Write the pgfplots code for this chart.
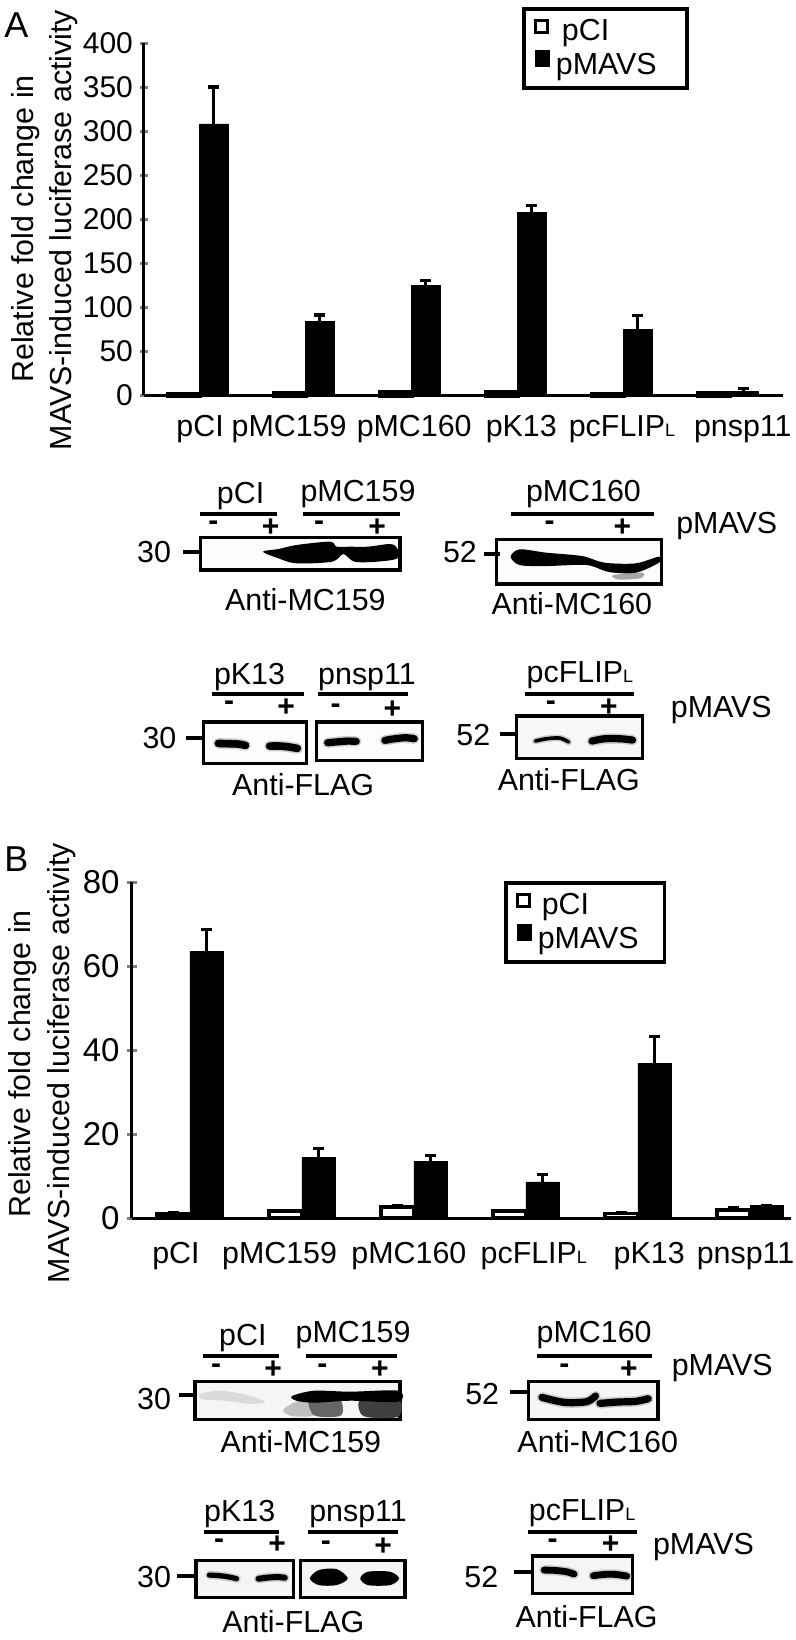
\documentclass[border=0pt]{standalone}
\usepackage{fontspec}
\setmainfont{Liberation Sans}
\usepackage{pgfplots}
\pgfplotsset{compat=1.18}

\pgfplotstableread{
x  ctl   ctlerr  mavs  mavserr
0  0.5   0.3     308   42
1  1.5   0.3     84    7
2  2.5   0.3     125   5
3  3.0   0.3     207   8
4  0.5   0.3     75    15
5  2.0   0.5     4     3
}\panelA
\pgfplotstableread{
x  ctl   ctlerr  mavs  mavserr
0  1.0   0.2     63.4  5.3
1  1.6   0.2     14.5  2.0
2  2.6   0.4     13.4  1.5
3  1.6   0.2     8.6   1.8
4  1.1   0.2     36.8  6.5
5  1.9   0.5     2.9   0.0
}\panelB

\newcommand{\ls}{\fontsize{15.2}{17}\selectfont}
\newcommand{\sub}[1]{{\fontsize{9}{9}\selectfont #1}}

\tikzset{
  lab/.style={font=\ls,inner sep=0pt,anchor=base},
  labl/.style={font=\ls,inner sep=0pt,anchor=base west},
  num/.style={font=\ls,inner sep=0pt,anchor=east},
  sign/.style={font=\bfseries\fontsize{15}{15}\selectfont,inner sep=0pt},
  rule/.style={line width=2pt},
  blot/.style={line width=1.6pt,fill=black!#1},
  band/.style={line width=#1,line cap=round,line join=round,black},
  halo/.style={line width=#1,line cap=round,line join=round,black!30,opacity=.6},
}
% dark band with a soft edge: width, then four points along it
\newcommand{\band}[5]{%
  \draw[halo=#1+1.6pt] plot[smooth] coordinates {#2 #3 #4 #5};
  \draw[band=#1] plot[smooth] coordinates {#2 #3 #4 #5};}

\pgfplotsset{
  fig/.style={
    scale only axis, clip=false,
    axis lines=left, axis line style={-,line width=1.5pt},
    ymin=0, xtick style={draw=none},
    ytick style={line width=1.5pt}, major tick length=4pt,
    xticklabel style={font=\ls,anchor=base},
    /pgf/number format/assume math mode=true,
    ybar, legend cell align=left,
    error bars/y dir=plus, error bars/y explicit,
    error bars/error bar style={line width=1.5pt,black},
    error bars/error mark options={rotate=90,mark size=2.6pt,line width=1.6pt,black},
  },
  ctl/.style={draw=black,fill=white,line width=1.8pt,
    legend image code/.code={\draw[line width=1.6pt,fill=white] (0pt,-0.5pt) rectangle (6pt,5.5pt);}},
  mavs/.style={draw=black,fill=black,line width=.4pt,
    legend image code/.code={\fill[black] (0pt,-0.5pt) rectangle (7pt,7.5pt);}},
}

\begin{document}
\begin{tikzpicture}[x=0.5pt,y=-0.5pt]
\fill[white] (0,0) rectangle (796,1640);
\path[use as bounding box] (0,0) rectangle (796,1640);

% ---- panel A chart
\begin{axis}[fig, at={(72pt,-197.5pt)}, anchor=south west,
  width=319.5pt, height=176pt,
  xmin=-0.519, xmax=5.509, ymax=400, ytick distance=50,
  yticklabel style={font=\fontsize{15}{17}\selectfont},
  xtick={0.01,0.85,2.03,3.04,3.99,5.13},
  xticklabels={pCI,pMC159,pMC160,pK13,pcFLIP\sub{L},pnsp11},
  xticklabel style={yshift=-16.5pt},
  legend style={at={(0.5917,1.1026)},anchor=north west,line width=1.8pt,
    font=\ls,inner xsep=5pt,inner ysep=3.2pt,row sep=1pt},
]
\addplot[ctl,line width=2.6pt,bar width=15pt,bar shift=-7.5pt] table[x=x,y=ctl] {\panelA};
\addlegendentry{\hspace*{4pt}pCI}
\addplot[mavs,bar width=14.5pt,bar shift=7.25pt] table[x=x,y=mavs,y error=mavserr] {\panelA};
\addlegendentry{\hspace*{1pt}pMAVS\hspace*{8pt}}
\end{axis}

% ---- panel B chart
\begin{axis}[fig, at={(65.8pt,-609pt)}, anchor=south west,
  width=329.7pt, height=168pt,
  xmin=-0.521, xmax=5.366, ymax=80, ytick distance=20,
  bar width=16.5pt, major tick length=5pt,
  yticklabel style={font=\fontsize{16.5}{18}\selectfont},
  xtick={-0.125,0.80,1.955,3.07,4.10,4.96},
  xticklabels={pCI,pMC159,pMC160,pcFLIP\sub{L},pK13,pnsp11},
  xticklabel style={yshift=-17.5pt},
  legend style={at={(0.5648,1.003)},anchor=north west,line width=1.8pt,
    font=\ls,inner xsep=5pt,inner ysep=3.2pt,row sep=1pt},
]
\addplot[ctl,bar shift=-8.25pt] table[x=x,y=ctl,y error=ctlerr] {\panelB};
\addlegendentry{\hspace*{3pt}pCI}
\addplot[mavs,bar shift=8.25pt] table[x=x,y=mavs,y error=mavserr] {\panelB};
\addlegendentry{\hspace*{1pt}pMAVS\hspace*{6pt}}
\end{axis}

% ---- panel letters and y titles
\node[anchor=base west,inner sep=0pt,font=\fontsize{18}{20}\selectfont] at (4,37) {A};
\node[anchor=base west,inner sep=0pt,font=\fontsize{18}{20}\selectfont] at (4,871) {B};
\node[lab,rotate=90] at (33,229) {Relative fold change in};
\node[lab,rotate=90] at (71,230) {MAVS-induced luciferase activity};
\node[lab,rotate=90] at (31,1064) {Relative fold change in};
\node[lab,rotate=90] at (69,1063) {MAVS-induced luciferase activity};

% ---- panel A blots
\begin{scope}[shift={(100,450)},x=0.2232pt,y=-0.1667pt]
\node[lab] at (315,160) {pCI};
\node[lab] at (578,155) {pMC159};
\node[lab] at (1083,155) {pMC160};
\draw[rule] (225,192)--(397,192) (455,192)--(673,192) (920,192)--(1241,192);
\foreach \x/\s/\y in {254/-/228,382/+/233,491/-/228,621/+/233,1007/-/228,1170/+/233}
  \node[sign] at (\x,\y) {\s};
\node[labl] at (1290,250) {pMAVS};
\filldraw[blot=1] (225,262) rectangle (672,360);
\filldraw[blot=1] (888,268) rectangle (1258,402);
\fill[black] plot[smooth cycle] coordinates {(365,305) (400,297) (440,285) (515,275) (530,290) (560,290) (600,290) (650,282) (666,295) (666,325) (620,335) (570,335) (545,312) (520,335) (440,340) (400,325)};
\fill[black!35] plot[smooth cycle] coordinates {(1150,375) (1215,368) (1210,385) (1160,388)};
\fill[black] plot[smooth cycle] coordinates {(920,320) (940,298) (1000,308) (1080,318) (1130,338) (1200,340) (1252,320) (1252,338) (1200,368) (1140,366) (1090,345) (1000,348) (940,345)};
\draw[rule] (187,307)--(225,307) (860,313)--(895,313);
\node[num] at (160,305) {30};
\node[num] at (845,305) {52};
\node[lab] at (460,482) {Anti-MC159};
\node[lab] at (1057,492) {Anti-MC160};

\node[lab] at (335,703) {pK13};
\node[lab] at (598,703) {pnsp11};
\node[lab] at (1075,698) {pcFLIP\sub{L}};
\draw[rule] (252,733)--(456,733) (489,733)--(690,733) (953,733)--(1197,733);
\foreach \x/\s/\y in {289/-/768,417/+/773,528/-/775,655/+/778,1010/-/767,1140/+/772}
  \node[sign] at (\x,\y) {\s};
\node[labl] at (1278,803) {pMAVS};
\filldraw[blot=1] (232,816) rectangle (463,941);
\filldraw[blot=1] (485,816) rectangle (722,931);
\filldraw[blot=3] (933,798) rectangle (1215,925);
\band{3.8pt}{(265,880)}{(290,881)}{(310,882)}{(326,886)}
\band{3.8pt}{(380,888)}{(405,888)}{(425,891)}{(442,895)}
\band{3.6pt}{(510,878)}{(535,875)}{(555,873)}{(574,874)}
\band{3.6pt}{(638,871)}{(660,866)}{(685,863)}{(704,866)}
\band{1.8pt}{(975,873)}{(1000,866)}{(1030,864)}{(1050,876)}
\band{3.6pt}{(1102,873)}{(1130,866)}{(1165,866)}{(1193,870)}
\draw[rule] (193,865)--(232,865) (897,853)--(933,853);
\node[num] at (172,865) {30};
\node[num] at (875,855) {52};
\node[lab] at (455,1035) {Anti-FLAG};
\node[lab] at (1050,1022) {Anti-FLAG};
\end{scope}

% ---- panel B blots
\begin{scope}[shift={(100,1270)},x=0.2232pt,y=-0.1667pt]
\node[lab] at (320,225) {pCI};
\node[lab] at (567,218) {pMC159};
\node[lab] at (1107,218) {pMC160};
\draw[rule] (230,259)--(402,259) (461,259)--(666,259) (978,259)--(1236,259);
\foreach \x/\s/\y in {260/-/295,388/+/298,498/-/295,627/+/298,1040/-/295,1185/+/298}
  \node[sign] at (\x,\y) {\s};
\node[labl] at (1280,315) {pMAVS};
\filldraw[blot=4] (213,335) rectangle (672,448);
\filldraw[blot=4] (960,335) rectangle (1250,448);
\fill[black!14] plot[smooth cycle] coordinates {(225,372) (270,362) (330,375) (370,395) (340,402) (280,392) (230,388)};
\fill[black!25] plot[smooth cycle] coordinates {(410,420) (440,395) (480,385) (480,435) (430,438)};
\fill[black!60] plot[smooth cycle] coordinates {(470,385) (535,385) (540,436) (480,436)};
\fill[black!75] plot[smooth cycle] coordinates {(585,385) (668,385) (668,440) (590,438)};
\fill[black] plot[smooth cycle] coordinates {(430,378) (480,362) (560,365) (668,362) (668,395) (560,392) (480,398) (440,392)};
\band{3.6pt}{(990,382)}{(1040,397)}{(1090,395)}{(1110,378)}
\band{3.6pt}{(1120,400)}{(1160,396)}{(1200,394)}{(1228,386)}
\draw[rule] (176,374)--(213,374) (918,365)--(960,365);
\node[num] at (160,388) {30};
\node[num] at (895,372) {52};
\node[lab] at (450,548) {Anti-MC159};
\node[lab] at (1115,548) {Anti-MC160};

\node[lab] at (313,755) {pK13};
\node[lab] at (578,755) {pnsp11};
\node[lab] at (1080,752) {pcFLIP\sub{L}};
\draw[rule] (232,787)--(402,787) (467,787)--(668,787) (958,787)--(1202,787);
\foreach \x/\s/\y in {267/-/822,397/+/825,506/-/827,634/+/830,1014/-/820,1144/+/825}
  \node[sign] at (\x,\y) {\s};
\node[labl] at (1238,853) {pMAVS};
\filldraw[blot=4] (215,871) rectangle (433,983);
\filldraw[blot=4] (449,871) rectangle (683,983);
\filldraw[blot=4] (968,858) rectangle (1193,970);
\band{2.6pt}{(245,915)}{(270,917)}{(290,921)}{(306,926)}
\band{3pt}{(355,926)}{(380,922)}{(400,921)}{(414,923)}
\fill[black] plot[smooth cycle] coordinates {(470,925) (490,900) (530,897) (555,925) (530,945) (490,945)};
\fill[black] plot[smooth cycle] coordinates {(583,925) (600,905) (650,905) (670,925) (650,945) (600,945)};
\band{3.4pt}{(995,900)}{(1020,901)}{(1045,905)}{(1062,912)}
\band{3.4pt}{(1105,917)}{(1130,913)}{(1155,913)}{(1180,918)}
\draw[rule] (172,917)--(215,917) (927,906)--(968,906);
\node[num] at (160,920) {30};
\node[num] at (893,920) {52};
\node[lab] at (433,1087) {Anti-FLAG};
\node[lab] at (1090,1073) {Anti-FLAG};
\end{scope}
\end{tikzpicture}
\end{document}
